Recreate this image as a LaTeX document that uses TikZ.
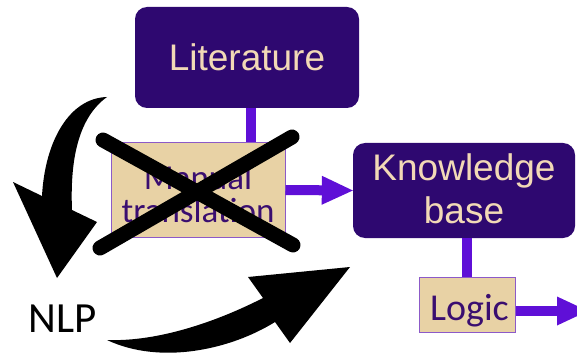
\documentclass[tikz,border=0pt]{standalone}
\usepackage{fontspec}
\newfontfamily\arialf{Liberation Sans}
\newfontfamily\calib{Carlito}
\usetikzlibrary{arrows.meta}
\definecolor{darkbox}{RGB}{46,8,112}
\definecolor{boxtext}{RGB}{242,217,182}
\definecolor{conncol}{RGB}{95,15,215}
\definecolor{beige}{RGB}{232,210,165}
\definecolor{beigeborder}{RGB}{140,90,200}
\definecolor{beigetextcol}{RGB}{58,14,112}
\tikzset{
  darknode/.style={draw=none, fill=darkbox, rounded corners=12pt, inner sep=0pt},
  darktext/.style={text=boxtext, font=\arialf\fontsize{37}{43}\selectfont, align=center, inner sep=0pt},
  beigenode/.style={draw=beigeborder, line width=1pt, fill=beige, inner sep=0pt},
  beigetext/.style={text=beigetextcol, font=\calib\fontsize{35}{33}\selectfont, align=center, inner sep=0pt},
  conn/.style={draw=conncol, line width=10pt},
  connarrow/.style={conn, -{Triangle[length=31pt,width=29pt,line width=0pt]}},
  crossline/.style={draw=black, line width=15pt, line cap=round},
  blackarrow/.style={fill=black, draw=none}
}
\begin{document}
\begin{tikzpicture}[x=1pt,y=-1pt]
\useasboundingbox (0,0) rectangle (577,358);
\clip (0,0) rectangle (577,358);
% boxes
\node[darknode, minimum width=224pt, minimum height=101pt] (lit) at (247,57.5) {};
\node[darktext] (littext) at (lit.center) {Literature};
\node[beigenode, minimum width=174pt, minimum height=94pt] (manual) at (198,190) {};
\node[beigetext] (manualtext) at ([yshift=-4pt]manual.center) {Manual\\translation};
\node[darknode, minimum width=222pt, minimum height=95pt] (kb) at (464,190.5) {};
\node[darktext] (kbtext) at ([yshift=2pt]kb.center) {Knowledge\\base};
\node[beigenode, minimum width=96pt, minimum height=55pt] (logic) at (467,304.5) {};
\node[beigetext, font=\calib\fontsize{38}{40}\selectfont] (logictext) at ([xshift=2.5pt,yshift=-6pt]logic.center) {Logic};
\node[text=black, font=\calib\fontsize{43}{45}\selectfont, inner sep=0pt] (nlp) at (63,319) {NLP};
\coordinate (out) at (588,311);
% connectors
\draw[conn] ([xshift=4pt]lit.south) -- ([xshift=4pt]lit.south |- manual.north);
\draw[connarrow] (manual.east) -- (kb.west);
\draw[conn] (logic.north |- kb.south) -- (logic.north);
\draw[connarrow] (logic.east |- out) -- (out);
% cross
\draw[crossline] (103,140) -- (293,245);
\draw[crossline] (100,248) -- (292,137);
% black curved arrows
\path[blackarrow] (107,97) .. controls (70,98) and (45,140) .. (42,196)
  -- (13,182) -- (57,278) -- (97,222) -- (72,210)
  .. controls (70,160) and (78,118) .. (107,97) -- cycle;
\path[blackarrow] (107,340) .. controls (160,342) and (220,320) .. (263,298)
  -- (248,277) -- (350,267) -- (290,343) -- (275,322)
  .. controls (230,350) and (160,365) .. (107,340) -- cycle;
\end{tikzpicture}
\end{document}
